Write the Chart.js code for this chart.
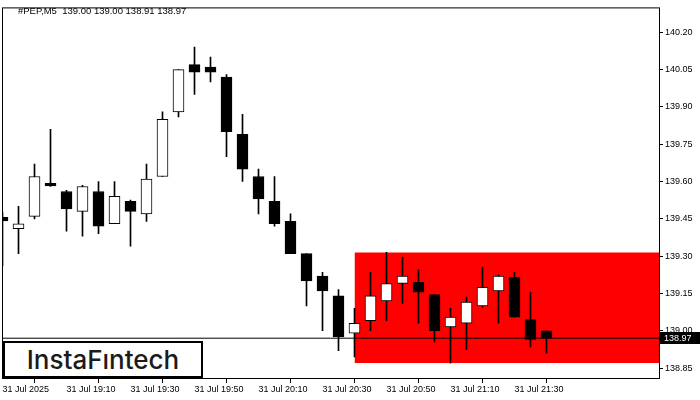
<!DOCTYPE html>
<html>
<head>
<meta charset="utf-8">
<script src="https://cdn.jsdelivr.net/npm/chart.js@4"></script>
<style>
  body { margin: 0; background: #fff; }
  #wrap { position: relative; width: 700px; height: 400px; }
  #title { position: absolute; left: 18px; top: 5px; font: 9.5px "Liberation Sans", Arial, sans-serif; line-height: 12px; color: #000; white-space: pre; }
  #logo { position: absolute; left: 3px; top: 341px; width: 200px; height: 37px; box-sizing: border-box; border: 2px solid #000; background: #fff;
          display: flex; align-items: center; justify-content: center; font: 500 26px Inter, sans-serif; color: #1b1b1b; }
</style>
</head>
<body>
<div id="wrap">
  <canvas id="chart" width="700" height="400"></canvas>
  <div id="title">#PEP,M5  139.00 139.00 138.91 138.97</div>
  <div id="logo">InstaFıntech</div>
</div>
<script>
// 5-minute candles, 31 Jul 18:50 .. 21:40 (index 0 = 18:50)
const opens  = [139.456, 139.41, 139.46, 139.593, 139.56, 139.48, 139.56, 139.43, 139.52, 139.47,
                139.62, 139.88, 140.07, 140.06, 140.02, 139.79, 139.62, 139.52, 139.44, 139.31,
                139.22, 139.14, 138.99, 139.04, 139.12, 139.19, 139.195, 139.145, 139.015, 139.03,
                139.10, 139.16, 139.215, 139.045, 139.00];
const highs  = [139.475, 139.50, 139.67, 139.81, 139.565, 139.585, 139.60, 139.60, 139.525, 139.67,
                139.88, 140.05, 140.14, 140.10, 140.03, 139.87, 139.65, 139.62, 139.47, 139.31,
                139.235, 139.165, 139.09, 139.235, 139.315, 139.295, 139.245, 139.145, 139.09, 139.135,
                139.255, 139.225, 139.235, 139.155, 139.00];
const lows   = [139.261, 139.31, 139.45, 139.58, 139.40, 139.38, 139.39, 139.43, 139.34, 139.44,
                139.62, 139.86, 139.95, 140.00, 139.70, 139.60, 139.47, 139.42, 139.31, 139.10,
                139.00, 138.92, 138.895, 139.00, 139.04, 139.11, 139.03, 138.955, 138.87, 138.925,
                139.095, 139.03, 139.055, 138.935, 138.91];
const closes = [139.442, 139.43, 139.62, 139.582, 139.49, 139.58, 139.42, 139.54, 139.48, 139.61,
                139.85, 140.05, 140.04, 140.04, 139.80, 139.65, 139.53, 139.43, 139.31, 139.20,
                139.16, 138.975, 139.03, 139.14, 139.19, 139.22, 139.155, 139.00, 139.055, 139.115,
                139.175, 139.22, 139.055, 138.965, 138.97];

const xTickPos    = [0, 4, 8, 12, 16, 20, 24, 28, 32];
const xTickLabels = ['31 Jul 2025', '31 Jul 19:10', '31 Jul 19:30', '31 Jul 19:50', '31 Jul 20:10',
                     '31 Jul 20:30', '31 Jul 20:50', '31 Jul 21:10', '31 Jul 21:30'];
const yTicks = [138.85, 139.00, 139.15, 139.30, 139.45, 139.60, 139.75, 139.90, 140.05, 140.20];

// pattern zone (rectangle) and last price
const zoneStart = 22, zoneEnd = 42;
const zoneTop = 139.315, zoneBottom = 138.87;
const lastPrice = 138.97;

const yMin = 138.81, yMax = 140.30;
const xMin = -0.03125, xMax = 41.03125;

const idx = opens.map((_, i) => i);
const bodyColors = idx.map(i => closes[i] >= opens[i] ? '#ffffff' : '#000000');

const chromePlugin = {
    id: 'chrome',
    afterDraw(chart) {
        const { ctx, chartArea: a, scales } = chart;
        ctx.save();
        ctx.strokeStyle = '#000';
        ctx.lineWidth = 1;
        ctx.strokeRect(a.left + 0.5, a.top + 0.5, a.right - a.left, a.bottom - a.top);
        const y = Math.round(scales.y.getPixelForValue(lastPrice));
        ctx.fillStyle = '#000';
        ctx.fillRect(a.right + 1, y - 6, 40, 12);
        ctx.fillStyle = '#fff';
        ctx.font = '9px "Liberation Sans", Arial, sans-serif';
        ctx.textBaseline = 'middle';
        ctx.fillText(lastPrice.toFixed(2), a.right + 5, y + 0.5);
        ctx.restore();
    }
};

const tickFont = { family: '"Liberation Sans", Arial, sans-serif', size: 9 };

new Chart(document.getElementById('chart').getContext('2d'), {
    type: 'bar',
    data: {
        datasets: [
            {
                type: 'line', order: 5,
                data: [{ x: zoneStart, y: zoneTop }, { x: zoneEnd, y: zoneTop }],
                borderWidth: 0, pointRadius: 0, backgroundColor: '#ff0000',
                fill: { value: zoneBottom }
            },
            {
                type: 'line', order: 4,
                data: [{ x: xMin - 1, y: lastPrice }, { x: xMax + 1, y: lastPrice }],
                borderColor: '#000', borderWidth: 1, pointRadius: 0, fill: false
            },
            {
                order: 3, grouped: false,
                data: idx.map(i => ({ x: i, y: [lows[i], highs[i]] })),
                backgroundColor: '#000', borderWidth: 0, barThickness: 1
            },
            {
                order: 2, grouped: false,
                data: idx.map(i => ({ x: i, y: [opens[i], closes[i]] })),
                backgroundColor: bodyColors, borderColor: '#000', borderWidth: 1,
                borderSkipped: false, barThickness: 11
            }
        ]
    },
    options: {
        responsive: false,
        animation: false,
        devicePixelRatio: 1,
        layout: { padding: { left: 2, top: 2, right: 0, bottom: 0 } },
        plugins: { legend: { display: false }, tooltip: { enabled: false } },
        scales: {
            x: {
                type: 'linear', min: xMin, max: xMax, offset: false,
                grid: { drawOnChartArea: false, drawTicks: true, tickLength: 5, color: '#000' },
                border: { display: false },
                afterBuildTicks: s => { s.ticks = xTickPos.map(v => ({ value: v })); },
                afterFit: s => { s.height = 22; },
                ticks: {
                    align: 'start', autoSkip: false, maxRotation: 0, padding: 1, color: '#000', font: tickFont,
                    callback: v => xTickLabels[xTickPos.indexOf(v)]
                }
            },
            y: {
                type: 'linear', position: 'right', min: yMin, max: yMax,
                grid: { drawOnChartArea: false, drawTicks: true, tickLength: 4, color: '#000' },
                border: { display: false },
                afterBuildTicks: s => { s.ticks = yTicks.map(v => ({ value: v })); },
                afterFit: s => { s.width = 41; },
                ticks: { padding: 2, color: '#000', font: tickFont, callback: v => v.toFixed(2) }
            }
        }
    },
    plugins: [chromePlugin]
});
</script>
</body>
</html>
